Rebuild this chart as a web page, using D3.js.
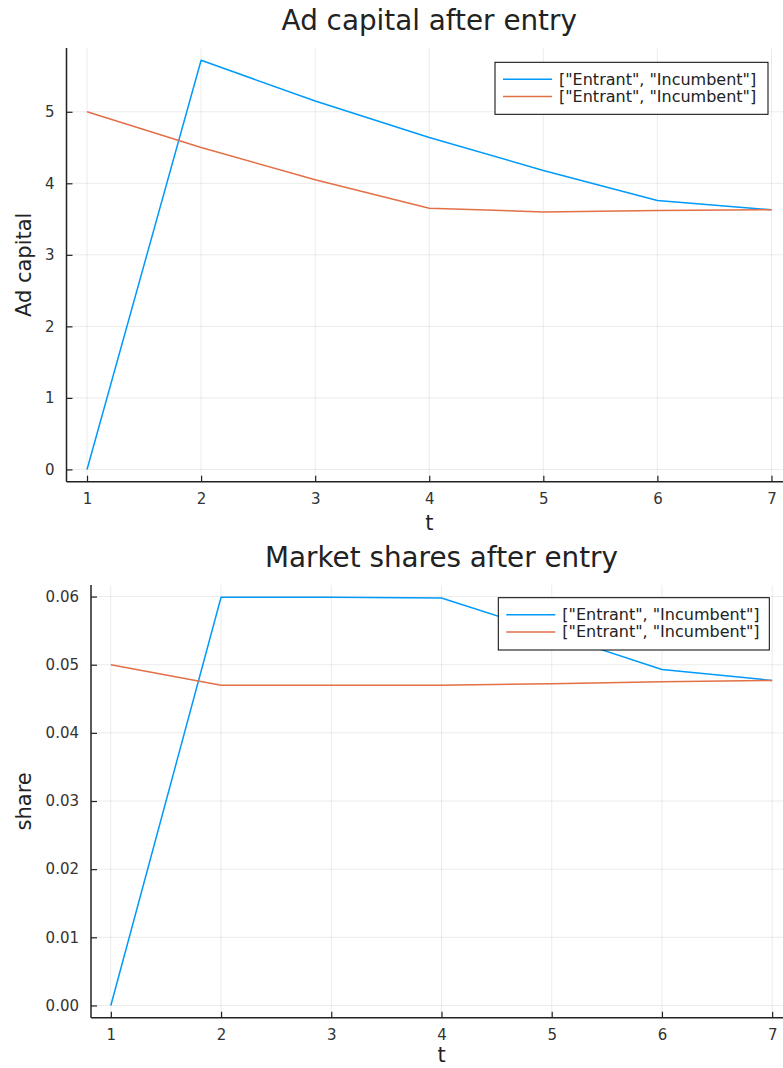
<!DOCTYPE html>
<html>
<head>
<meta charset="utf-8">
<script src="https://cdn.jsdelivr.net/npm/d3@7"></script>
<style>
  html, body { margin: 0; padding: 0; background: #fff; }
  svg { display: block; font-family: "DejaVu Sans", sans-serif; }
</style>
</head>
<body>
<svg id="chart" width="783" height="1068"></svg>
<script>
// Periods after entry
const periods = [1, 2, 3, 4, 5, 6, 7];

// Ad capital stock per period
const adEntrant   = [0, 5.72, 5.15, 4.64, 4.18, 3.76, 3.63];
const adIncumbent = [5.0, 4.50, 4.05, 3.65, 3.60, 3.62, 3.63];

// Market share per period
const shareEntrant   = [0, 0.0599, 0.0599, 0.0598, 0.0546, 0.0493, 0.0477];
const shareIncumbent = [0.05, 0.0470, 0.0470, 0.0470, 0.0472, 0.0475, 0.0477];

const xTicks = [1, 2, 3, 4, 5, 6, 7];
const adTicks = [0, 1, 2, 3, 4, 5];
const shareTicks = [0, 0.01, 0.02, 0.03, 0.04, 0.05, 0.06];

const legendLabel = '["Entrant", "Incumbent"]';
const seriesColors = ["#009AFA", "#E36F47"];

const svg = d3.select("#chart");

// Widen an extent by 3% on each side
function padded(lo, hi) {
  const p = (hi - lo) * 0.03;
  return [lo - p, hi + p];
}

function drawPanel(cfg) {
  const g = svg.append("g");
  const allY = cfg.series.flat();
  const x = d3.scaleLinear().domain(padded(d3.min(periods), d3.max(periods)))
    .range([cfg.left, cfg.right]);
  const y = d3.scaleLinear().domain(padded(d3.min(allY), d3.max(allY)))
    .range([cfg.bottom, cfg.top]);

  // grid
  g.append("g").selectAll("line").data(xTicks).join("line")
    .attr("x1", d => x(d)).attr("x2", d => x(d))
    .attr("y1", cfg.top).attr("y2", cfg.bottom)
    .attr("stroke", "#000").attr("stroke-opacity", 0.08).attr("stroke-width", 1);
  g.append("g").selectAll("line").data(cfg.yTicks).join("line")
    .attr("x1", cfg.left).attr("x2", cfg.right)
    .attr("y1", d => y(d)).attr("y2", d => y(d))
    .attr("stroke", "#000").attr("stroke-opacity", 0.08).attr("stroke-width", 1);

  // axes (ticks point inward)
  const xAxis = d3.axisBottom(x).tickValues(xTicks).tickSize(-6).tickPadding(12)
    .tickFormat(d3.format("d"));
  const gx = g.append("g").attr("transform", `translate(0,${cfg.bottom})`).call(xAxis);
  const yAxis = d3.axisLeft(y).tickValues(cfg.yTicks).tickSize(-6).tickPadding(12)
    .tickFormat(cfg.yFormat);
  const gy = g.append("g").attr("transform", `translate(${cfg.left},0)`).call(yAxis);
  [gx, gy].forEach(a => {
    a.select(".domain").attr("stroke", "#222").attr("stroke-width", 1.5);
    a.selectAll(".tick line").attr("stroke", "#222").attr("stroke-width", 1.2);
    a.selectAll(".tick text").attr("fill", "#333").attr("font-size", 15)
      .attr("font-family", "DejaVu Sans, sans-serif");
  });
  gx.select(".domain").attr("d", `M${cfg.left},0H${cfg.right}`);
  gy.select(".domain").attr("d", `M0,${cfg.bottom}V${cfg.top}`);

  // series lines
  const line = d3.line().x((d, i) => x(periods[i])).y(d => y(d));
  cfg.series.forEach((s, k) => {
    g.append("path").datum(s).attr("d", line)
      .attr("fill", "none").attr("stroke", seriesColors[k])
      .attr("stroke-width", 1.5).attr("stroke-linejoin", "round");
  });

  // title and axis labels
  g.append("text").attr("x", (cfg.left + cfg.right) / 2).attr("y", cfg.titleY)
    .attr("text-anchor", "middle").attr("font-size", 27.8).attr("fill", "#222")
    .text(cfg.title);
  g.append("text").attr("x", (cfg.left + cfg.right) / 2).attr("y", cfg.xLabelY)
    .attr("text-anchor", "middle").attr("font-size", 21).attr("fill", "#222")
    .text("t");
  g.append("text")
    .attr("transform", `translate(31,${(cfg.top + cfg.bottom) / 2}) rotate(-90)`)
    .attr("text-anchor", "middle").attr("font-size", 21).attr("fill", "#222")
    .text(cfg.yLabel);

  // legend
  const L = cfg.legend;
  const lg = g.append("g");
  lg.append("rect").attr("x", L.x).attr("y", L.y).attr("width", L.w).attr("height", L.h)
    .attr("fill", "#fff").attr("stroke", "#000").attr("stroke-width", 1);
  seriesColors.forEach((c, k) => {
    const ly = L.y + 17 + k * 17.2;
    lg.append("line").attr("x1", L.x + 8).attr("x2", L.x + 57)
      .attr("y1", ly).attr("y2", ly).attr("stroke", c).attr("stroke-width", 1.5);
    lg.append("text").attr("x", L.x + 64).attr("y", ly + 5.5)
      .attr("font-size", 16).attr("fill", "#222").text(legendLabel);
  });
}

drawPanel({
  left: 66.5, right: 792, top: 48, bottom: 481.7,
  series: [adEntrant, adIncumbent],
  yTicks: adTicks, yFormat: d3.format("d"),
  title: "Ad capital after entry", titleY: 30, xLabelY: 530,
  yLabel: "Ad capital",
  legend: { x: 495, y: 62.3, w: 273, h: 52 }
});

drawPanel({
  left: 91, right: 792, top: 585, bottom: 1017.7,
  series: [shareEntrant, shareIncumbent],
  yTicks: shareTicks, yFormat: d3.format(".2f"),
  title: "Market shares after entry", titleY: 567, xLabelY: 1062,
  yLabel: "share",
  legend: { x: 498.3, y: 597.7, w: 271, h: 52.3 }
});
</script>
</body>
</html>
